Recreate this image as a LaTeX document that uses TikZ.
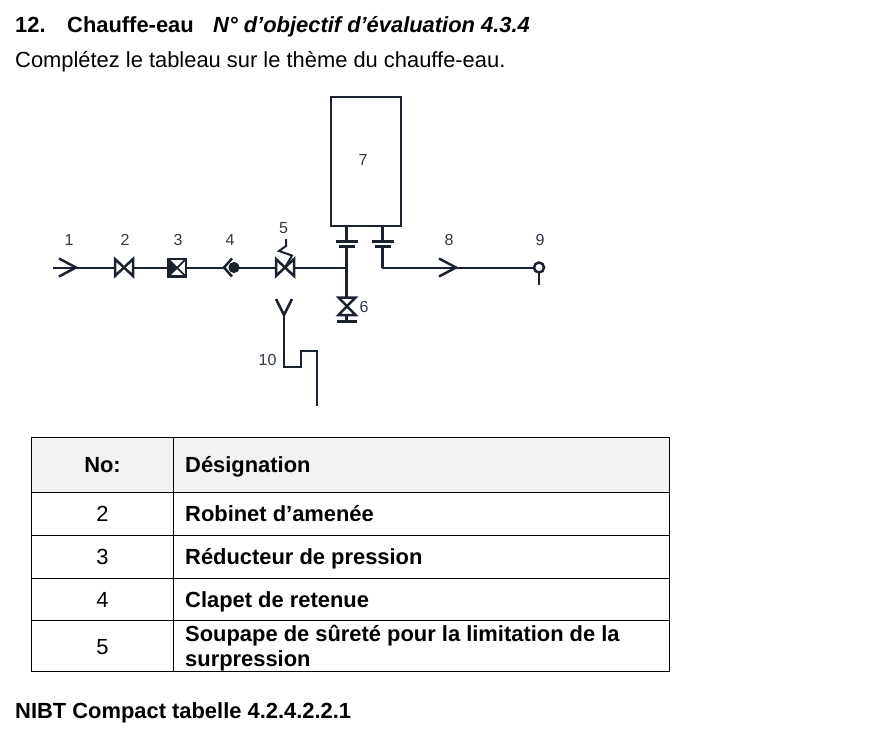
\documentclass[tikz,border=0pt]{standalone}
\usepackage{fontspec}
\setmainfont{Liberation Sans}
\definecolor{ink}{HTML}{1A2230}
\tikzset{
  pipe/.style={draw=ink,line width=2.5pt,line join=miter},
  lab/.style={inner sep=0pt,anchor=base,text=ink!90!white,font=\fontsize{16}{16}\selectfont},
  txt/.style={inner sep=0pt,anchor=base west,text=black,font=\fontsize{21.9}{21.9}\selectfont},
  head/.style={txt,font=\fontsize{21.9}{21.9}\selectfont\bfseries},
  cell/.style={txt,font=\fontsize{21.9}{24}\selectfont\bfseries},
  num/.style={inner sep=0pt,anchor=base,text=black,font=\fontsize{21.9}{21.9}\selectfont},
  grid/.style={draw=black,line width=1pt},
}
\begin{document}
\begin{tikzpicture}[x=1pt,y=-1pt]
\useasboundingbox (0,0) rectangle (888,732);
% texts
\node[head] (t12) at (15,32) {12.};
\node[head] (tch) at (67,32) {Chauffe-eau};
\node[head,font=\fontsize{21.9}{21.9}\selectfont\bfseries\itshape] (tobj) at (213,32) {N° d’objectif d’évaluation 4.3.4};
\node[txt] (intro) at (15,67) {Complétez le tableau sur le thème du chauffe-eau.};
\node[head] (foot) at (15,718) {NIBT Compact tabelle 4.2.4.2.2.1};
% tank
\node[draw=ink,line width=2.5pt,minimum width=70pt,minimum height=129pt,inner sep=0pt] (tank) at (366,161.5) {};
\node[lab] (l7) at (363,165) {7};
% coordinates
\coordinate (a1) at (53,267.5); \coordinate (tip1) at (76,267.5);
\coordinate (v2l) at (115,267.5); \coordinate (v2r) at (133,267.5);
\coordinate (b3l) at (167.5,267.5); \coordinate (b3r) at (186,267.5);
\coordinate (c4) at (234,267.5); \coordinate (c4t) at (224,267.5);
\coordinate (v5l) at (276,267.5); \coordinate (v5r) at (294,267.5);
\coordinate (jn) at (346.7,267.5);
\coordinate (tip8) at (456,267.5);
\coordinate (o9) at (539,267.5);
% main line
\draw[pipe,line width=2pt] (a1) -- (v2l);
\draw[pipe,line width=2pt] (v2r) -- (b3l);
\draw[pipe,line width=2pt] (b3r) -- (c4t);
\draw[pipe,line width=2pt] (c4) -- (v5l);
\draw[pipe,line width=2pt] (v5r) -- (jn);
% arrow 1
\draw[pipe] (59,258.5) -- (tip1) -- (59,276.5);
% valve 2
\draw[pipe] (115,259) -- (133,276) -- (133,259) -- (115,276) -- cycle;
% reducer 3
\draw[pipe] (168,259) rectangle (186,276.5);
\fill[ink] (168,259) -- (177,267.7) -- (168,276.5) -- cycle;
\draw[draw=ink,line width=1.8pt] (168,259) -- (186,276.5) (186,259) -- (168,276.5);
% check valve 4
\draw[pipe] (232,258.5) -- (c4t) -- (232,276.5);
\fill[ink] (c4) circle (5.6);
% valve 5
\draw[pipe] (276,259) -- (294,276) -- (294,259) -- (276,276) -- cycle;
\draw[pipe,line width=2pt] (286,239) -- (286,246) -- (279,251) -- (292,255.5) -- (285,267.5);
% flanges and vertical lines
\coordinate (f1) at (346.7,226); \coordinate (f2) at (382.7,226);
\draw[pipe] (f1) -- (346.7,241);
\draw[pipe] (336,241.7) -- (357.5,241.7);
\draw[pipe] (339,246.5) -- (354.5,246.5);
\draw[pipe] (346.7,246.5) -- (346.7,297);
\draw[pipe] (f2) -- (382.7,241);
\draw[pipe] (372,241.7) -- (393.5,241.7);
\draw[pipe] (375,246.5) -- (390.5,246.5);
\draw[pipe] (382.7,246.5) -- (382.7,267.5);
\draw[pipe,line width=2pt] (381.5,267.5) -- (534,267.5);
% arrow 8
\draw[pipe] (439,258.5) -- (tip8) -- (439,276.5);
% end 9
\draw[pipe] (o9) circle (5);
\draw[pipe] (539,272.5) -- (539,285);
% valve 6
\draw[pipe] (338.5,297.5) -- (355.5,315) -- (338.5,315) -- (355.5,297.5) -- cycle;
\draw[pipe] (346.7,315) -- (346.7,321.5);
\draw[pipe] (337,321.5) -- (356.5,321.5);
% funnel 10
\draw[pipe] (276,299) -- (284,315) -- (292,299);
\draw[pipe] (284,315) -- (284,367) -- (301,367) -- (301,351) -- (317,351) -- (317,405.5);
% labels
\node[lab] (l1) at (69,245) {1};
\node[lab] (l2) at (125,245) {2};
\node[lab] (l3) at (178,245) {3};
\node[lab] (l4) at (230,245) {4};
\node[lab] (l5) at (283.5,233) {5};
\node[lab] (l6) at (364,312.5) {6};
\node[lab] (l8) at (449,245) {8};
\node[lab] (l9) at (540,245) {9};
\node[lab] (l10) at (267.5,365) {10};
% table
\fill[black!5] (31,437) rectangle (669.5,492);
\draw[grid] (31,437) rectangle (669.5,671.5);
\draw[grid] (173,437) -- (173,671.5);
\draw[grid] (31,492) -- (669.5,492);
\draw[grid] (31,535) -- (669.5,535);
\draw[grid] (31,578) -- (669.5,578);
\draw[grid] (31,620.5) -- (669.5,620.5);
\node[num,font=\fontsize{21.9}{21.9}\selectfont\bfseries] (hno) at (102.5,472) {No:};
\node[head] (hde) at (185,472) {Désignation};
\node[num] (n2) at (102.5,521) {2};
\node[cell] (d2) at (185,521) {Robinet d’amenée};
\node[num] (n3) at (102.5,564) {3};
\node[cell] (d3) at (185,564) {Réducteur de pression};
\node[num] (n4) at (102.5,607) {4};
\node[cell] (d4) at (185,607) {Clapet de retenue};
\node[num] (n5) at (102.5,654) {5};
\node[cell] (d5a) at (185,641) {Soupape de sûreté pour la limitation de la};
\node[cell] (d5b) at (185,666) {surpression};
\end{tikzpicture}
\end{document}
